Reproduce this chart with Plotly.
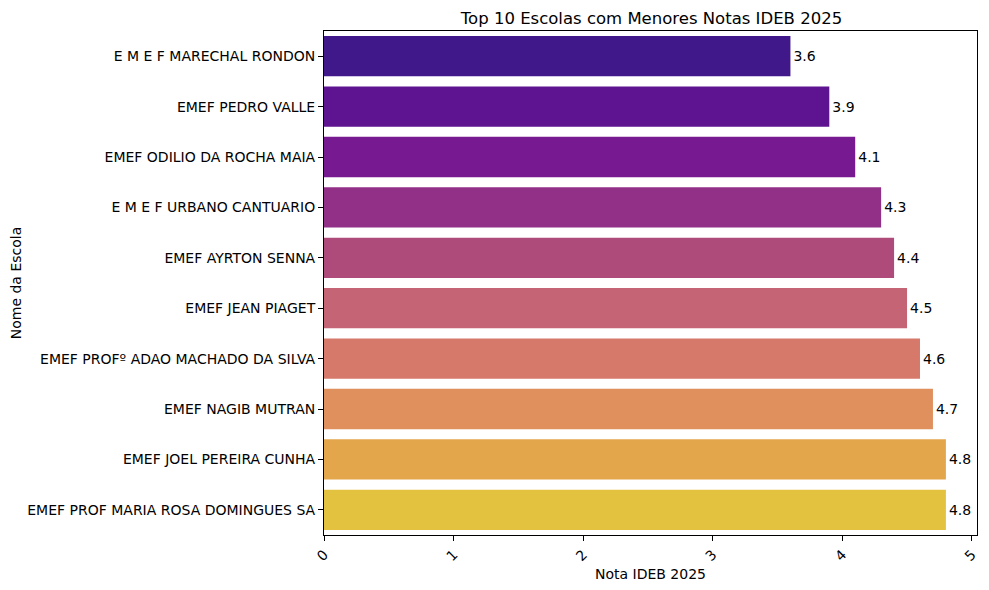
import plotly.graph_objects as go

# Escolas com menores notas IDEB 2025
escolas = [
    'E M E F MARECHAL RONDON',
    'EMEF PEDRO VALLE',
    'EMEF ODILIO DA ROCHA MAIA',
    'E M E F URBANO CANTUARIO',
    'EMEF AYRTON SENNA',
    'EMEF JEAN PIAGET',
    'EMEF PROFº ADAO MACHADO DA SILVA',
    'EMEF NAGIB MUTRAN',
    'EMEF JOEL PEREIRA CUNHA',
    'EMEF PROF MARIA ROSA DOMINGUES SA',
]
notas = [3.6, 3.9, 4.1, 4.3, 4.4, 4.5, 4.6, 4.7, 4.8, 4.8]

# plasma palette (seaborn, desaturated)
cores = ['#41188A', '#5E1490', '#771A91', '#922F87', '#AE4B7B',
         '#C46474', '#D6796B', '#E0905D', '#E4A64A', '#E2C23F']

font = 'DejaVu Sans'

fig = go.Figure(go.Bar(
    x=notas, y=escolas, orientation='h',
    marker=dict(color=cores, line=dict(width=0)),
    text=[f'{v:.1f}' for v in notas],
    textposition='outside',
    textfont=dict(family=font, size=14, color='black'),
    cliponaxis=False,
    hoverinfo='x+y',
))

# page body has an 8px margin, so the figure is a bit smaller than the window
fig.update_layout(
    width=973, height=574,
    margin=dict(l=316, r=2, t=23, b=47),
    plot_bgcolor='white', paper_bgcolor='white',
    bargap=0.2,
    showlegend=False,
    font=dict(family=font, size=14, color='black'),
    title=dict(text='Top 10 Escolas com Menores Notas IDEB 2025',
               x=(316 + 971) / 2 / 973, xanchor='center',
               y=1 - 10 / 574, yanchor='middle',
               font=dict(size=16.5, family=font, color='black')),
)

fig.update_xaxes(
    range=[0, 5.04], dtick=1, tick0=0,
    tickangle=-45,
    ticks='outside', ticklen=5, tickcolor='black',
    showline=True, linecolor='black', linewidth=1, mirror=True,
    showgrid=False, zeroline=False,
    title=dict(text='Nota IDEB 2025', font=dict(size=14), standoff=6),
    tickfont=dict(size=14),
)
fig.update_yaxes(
    autorange='reversed',
    ticks='outside', ticklen=5, tickcolor='black',
    showline=True, linecolor='black', linewidth=1, mirror=True,
    showgrid=False,
    title=dict(text='Nome da Escola', font=dict(size=14), standoff=6),
    tickfont=dict(size=14),
)

fig.write_html("out.html")
